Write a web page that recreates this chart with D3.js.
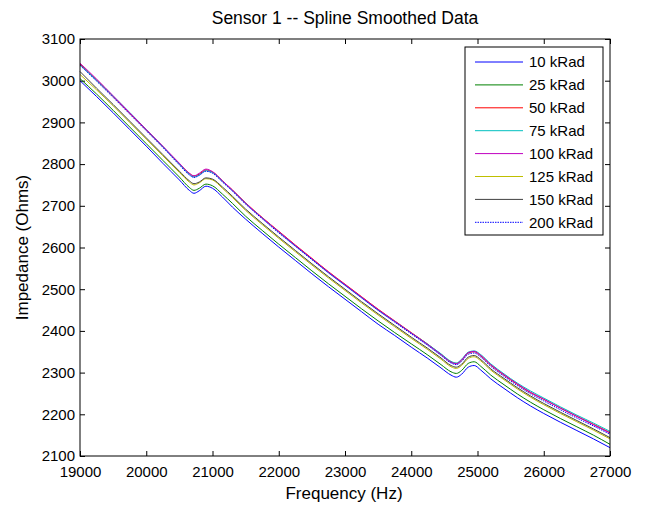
<html>
<head>
    <script src="https://d3js.org/d3.v7.min.js"></script>
    <style>
        body { margin: 0; background: #fff; }
        text { font-family: "Liberation Sans", Arial, sans-serif; fill: #000; }
    </style>
</head>
<body>
    <svg id="plot"></svg>
    <script>
        // frequency points shared by all curves (Hz)
        var freq = [19000,19250,19500,19750,20000,20250,20500,20650,20720,20800,20900,21000,21150,21300,21500,21750,22000,22250,22500,22750,23000,23250,23500,23750,24000,24250,24450,24600,24680,24760,24860,24950,25050,25200,25400,25600,25800,26000,26250,26500,26750,27000];

        // impedance (Ohms), one list per dose
        var kRad10  = [3000,2962,2923,2883,2843,2802,2762,2737,2730,2736,2747,2742,2721,2697,2668,2634,2601,2569,2537,2506,2476,2446,2416,2389,2361,2334,2311,2294,2289,2296,2313,2317,2306,2285,2262,2240,2220,2202,2181,2161,2141,2120];
        var kRad25  = [3005,2968,2929,2889,2849,2809,2769,2744,2737,2742,2752,2748,2728,2706,2675,2641,2608,2576,2544,2513,2483,2453,2424,2396,2369,2342,2319,2302,2298,2305,2322,2326,2315,2294,2271,2249,2229,2211,2190,2170,2150,2128];
        var kRad50  = [3040,3002,2962,2922,2882,2842,2801,2778,2771,2776,2786,2781,2760,2738,2707,2672,2639,2606,2574,2542,2512,2482,2452,2424,2396,2368,2344,2326,2322,2330,2347,2350,2340,2318,2294,2272,2252,2236,2215,2195,2176,2156];
        var kRad75  = [3038,3001,2963,2924,2883,2842,2800,2776,2769,2774,2784,2780,2759,2737,2706,2671,2637,2604,2572,2540,2510,2480,2450,2423,2395,2368,2345,2327,2323,2332,2349,2352,2343,2321,2297,2275,2256,2239,2218,2198,2179,2159];
        var kRad100 = [3042,3004,2964,2923,2883,2843,2802,2778,2772,2778,2788,2782,2760,2738,2706,2671,2638,2605,2573,2541,2511,2481,2451,2423,2395,2367,2343,2325,2321,2330,2348,2351,2341,2319,2295,2273,2253,2236,2215,2195,2175,2155];
        var kRad125 = [3015,2978,2940,2900,2860,2820,2780,2757,2750,2755,2765,2762,2742,2720,2689,2655,2622,2590,2558,2527,2497,2467,2438,2410,2382,2355,2332,2314,2310,2317,2334,2338,2328,2306,2283,2261,2241,2223,2202,2182,2162,2141];
        var kRad150 = [3022,2982,2943,2903,2863,2823,2783,2760,2753,2757,2767,2764,2745,2723,2692,2658,2625,2593,2561,2530,2500,2470,2441,2413,2385,2358,2335,2317,2313,2320,2337,2341,2331,2309,2286,2264,2244,2226,2205,2185,2165,2144];
        var kRad200 = [3037,2999,2960,2920,2880,2840,2798,2774,2768,2773,2783,2778,2757,2735,2704,2669,2635,2603,2571,2539,2509,2479,2449,2421,2393,2365,2341,2323,2319,2327,2344,2347,2337,2315,2291,2269,2249,2232,2211,2191,2172,2152];

        var labels = ["10 kRad","25 kRad","50 kRad","75 kRad","100 kRad","125 kRad","150 kRad","200 kRad"];
        var xTicks = [19000,20000,21000,22000,23000,24000,25000,26000,27000];
        var yTicks = [2100,2200,2300,2400,2500,2600,2700,2800,2900,3000,3100];

        var colors = ["#0000ff","#008000","#ff0000","#00bfbf","#bf00bf","#bfbf00","#404040","#0000ff"];
        var dashes = [null,null,null,null,null,null,null,"1.5,1"];
        var values = [kRad10,kRad25,kRad50,kRad75,kRad100,kRad125,kRad150,kRad200];

        var SizeX = 647, SizeY = 508;
        var Margin = {left: 80, right: 37, top: 39, bottom: 52};
        var W = SizeX - Margin.left - Margin.right,
            H = SizeY - Margin.top - Margin.bottom;

        var svg = d3.select("#plot").attr("width", SizeX).attr("height", SizeY);
        var g = svg.append("g").attr("transform", "translate(" + Margin.left + "," + Margin.top + ")");

        var x_scale = d3.scaleLinear().domain([19000, 27000]).range([0, W]);
        var y_scale = d3.scaleLinear().domain([2100, 3100]).range([H, 0]);

        function styleAxis(sel) {
            sel.select(".domain").remove();
            sel.selectAll("line").attr("stroke", "#000");
            sel.selectAll("text").style("font-size", "15px").attr("fill", "#000");
        }

        g.append("g").attr("transform", "translate(0," + H + ")")
            .call(d3.axisBottom(x_scale).tickValues(xTicks).tickFormat(d3.format("d"))
                .tickSizeInner(-5).tickSizeOuter(0).tickPadding(10))
            .call(styleAxis);
        g.append("g")
            .call(d3.axisTop(x_scale).tickValues(xTicks).tickFormat("")
                .tickSizeInner(-5).tickSizeOuter(0))
            .call(styleAxis);
        g.append("g")
            .call(d3.axisLeft(y_scale).tickValues(yTicks).tickFormat(d3.format("d"))
                .tickSizeInner(-5).tickSizeOuter(0).tickPadding(5))
            .call(styleAxis);
        g.append("g").attr("transform", "translate(" + W + ",0)")
            .call(d3.axisRight(y_scale).tickValues(yTicks).tickFormat("")
                .tickSizeInner(-5).tickSizeOuter(0))
            .call(styleAxis);

        var line = d3.line()
            .x(function(d){ return x_scale(d.f); })
            .y(function(d){ return y_scale(d.v); })
            .curve(d3.curveMonotoneX);

        var series = values.map(function(arr, i){
            return {
                name: labels[i], color: colors[i], dash: dashes[i],
                points: freq.map(function(f, j){ return {f: f, v: arr[j]}; })
            };
        });

        g.append("g").selectAll("path")
            .data(series).enter().append("path")
                .attr("d", function(d){ return line(d.points); })
                .attr("fill", "none")
                .attr("stroke", function(d){ return d.color; })
                .attr("stroke-width", 1)
                .attr("stroke-dasharray", function(d){ return d.dash; });

        // frame
        g.append("rect").attr("width", W).attr("height", H)
            .attr("fill", "none").attr("stroke", "#000").attr("stroke-width", 1);

        // legend
        var leg = svg.append("g").attr("transform", "translate(465,47)");
        leg.append("rect").attr("width", 138).attr("height", 188)
            .attr("fill", "#fff").attr("stroke", "#000").attr("stroke-width", 1);
        var rows = leg.selectAll(".row").data(series).enter().append("g")
            .attr("transform", function(d, i){ return "translate(0," + (15 + i * 22.9) + ")"; });
        rows.append("line").attr("x1", 10).attr("x2", 58)
            .attr("stroke", function(d){ return d.color; })
            .attr("stroke-dasharray", function(d){ return d.dash; });
        rows.append("text").attr("x", 64).attr("dy", "0.35em")
            .style("font-size", "15px").text(function(d){ return d.name; });

        // title and axis labels
        svg.append("text").attr("x", Margin.left + W / 2).attr("y", 24)
            .attr("text-anchor", "middle").style("font-size", "17.5px")
            .text("Sensor 1 -- Spline Smoothed Data");
        svg.append("text").attr("x", Margin.left + W / 2 - 1).attr("y", 499)
            .attr("text-anchor", "middle").style("font-size", "17px")
            .text("Frequency (Hz)");
        svg.append("text").attr("transform", "translate(28," + (Margin.top + H / 2) + ") rotate(-90)")
            .attr("text-anchor", "middle").style("font-size", "17px")
            .text("Impedance (Ohms)");
    </script>
</body>
</html>
